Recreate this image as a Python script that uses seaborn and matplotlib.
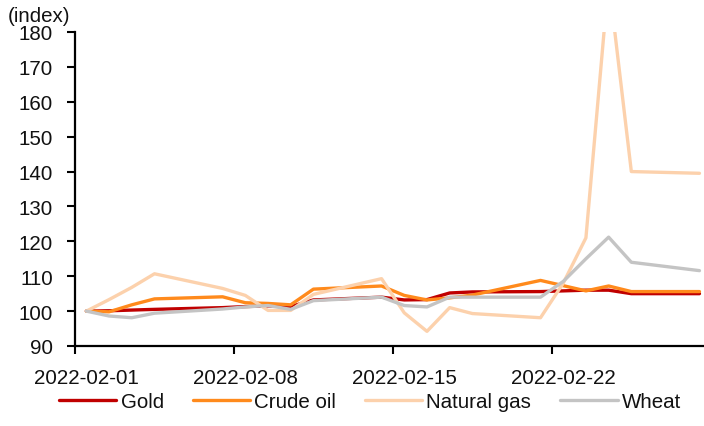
import matplotlib
matplotlib.use("Agg")
import matplotlib.pyplot as plt
import matplotlib.dates as mdates
import seaborn as sns
import pandas as pd

# Daily index levels (2022-02-01 = 100), trading days of February 2022
dates = ["2022-02-01", "2022-02-02", "2022-02-03", "2022-02-04",
         "2022-02-07", "2022-02-08", "2022-02-09", "2022-02-10", "2022-02-11",
         "2022-02-14", "2022-02-15", "2022-02-16", "2022-02-17", "2022-02-18",
         "2022-02-21", "2022-02-22", "2022-02-23", "2022-02-24", "2022-02-25",
         "2022-02-28"]
gold = [100.0, 100.1, 100.3, 100.5, 101.0, 101.3, 101.5, 101.3, 103.2,
        104.0, 103.2, 103.3, 105.2, 105.5, 105.6, 105.8, 106.0, 106.0, 105.0, 105.0]
crude_oil = [100.0, 99.8, 101.8, 103.5, 104.1, 102.4, 102.2, 101.8, 106.3,
             107.2, 104.5, 103.2, 103.8, 104.6, 108.8, 107.3, 105.8, 107.2, 105.6, 105.6]
natural_gas = [100.0, 103.3, 106.8, 110.7, 106.5, 104.5, 100.2, 100.2, 104.8,
               109.3, 99.5, 94.2, 101.0, 99.3, 98.1, 108.0, 121.0, 195.0, 140.0, 139.5]
wheat = [100.0, 98.6, 98.1, 99.4, 100.6, 101.2, 101.6, 100.5, 103.0,
         104.0, 101.6, 101.2, 104.0, 104.0, 104.0, 108.5, 115.0, 121.2, 114.0, 111.6]

series_names = ["Gold", "Crude oil", "Natural gas", "Wheat"]
series_values = [gold, crude_oil, natural_gas, wheat]
colors = ["#C00000", "#FF8A1C", "#FCD1AC", "#C4C4C4"]
tick_dates = ["2022-02-01", "2022-02-08", "2022-02-15", "2022-02-22"]
y_ticks = [90, 100, 110, 120, 130, 140, 150, 160, 170, 180]

df = pd.concat(
    [pd.DataFrame({"date": pd.to_datetime(dates), "value": v, "series": n})
     for n, v in zip(series_names, series_values)],
    ignore_index=True,
)

sns.set_style("white")
plt.rcParams["font.family"] = ["Liberation Sans", "DejaVu Sans"]
FS = 14.8

fig = plt.figure(figsize=(7.04, 4.27), dpi=100)
ax = fig.add_axes([75 / 704, 80 / 427, 1 - 75 / 704, 314 / 427])

sns.lineplot(data=df, x="date", y="value", hue="series",
             hue_order=series_names, palette=dict(zip(series_names, colors)),
             linewidth=2.4, ax=ax, legend=False)

# Date axis with points centred between day boundaries
first = mdates.date2num(pd.Timestamp(dates[0]))
last = mdates.date2num(pd.Timestamp(dates[-1]))
ax.set_xlim(first - 0.5, last + 0.2)
tick_nums = mdates.date2num(pd.to_datetime(tick_dates))
ax.set_xticks(tick_nums - 0.5)
ax.set_xticklabels([])
ax.set_xticks(tick_nums, minor=True)
ax.set_xticklabels(tick_dates, minor=True)
ax.tick_params(axis="x", which="major", direction="out", length=6, width=1.5,
               color="black", bottom=True)
ax.tick_params(axis="x", which="minor", length=0, pad=16, labelsize=FS,
               labelcolor="#111111")

ax.set_ylim(90, 180)
ax.set_yticks(y_ticks)
ax.tick_params(axis="y", direction="out", length=6, width=1.5, color="black",
               left=True, pad=10, labelsize=FS, labelcolor="#111111")

ax.set_xlabel("")
ax.set_ylabel("")
for side in ["top", "right"]:
    ax.spines[side].set_visible(False)
for side in ["left", "bottom"]:
    ax.spines[side].set_color("black")
    ax.spines[side].set_linewidth(1.6)

fig.text(8 / 704, 1 - 17 / 427, "(index)", fontsize=FS, va="center",
         ha="left", color="#111111")

handles = ax.get_lines()[:4]
fig.legend(handles, series_names, loc="center", ncol=4, frameon=False,
           bbox_to_anchor=(370 / 704, 24 / 427), fontsize=FS,
           handlelength=2.8, handletextpad=0.2, columnspacing=1.4,
           labelcolor="#111111")

fig.savefig("out.png", dpi=100)
